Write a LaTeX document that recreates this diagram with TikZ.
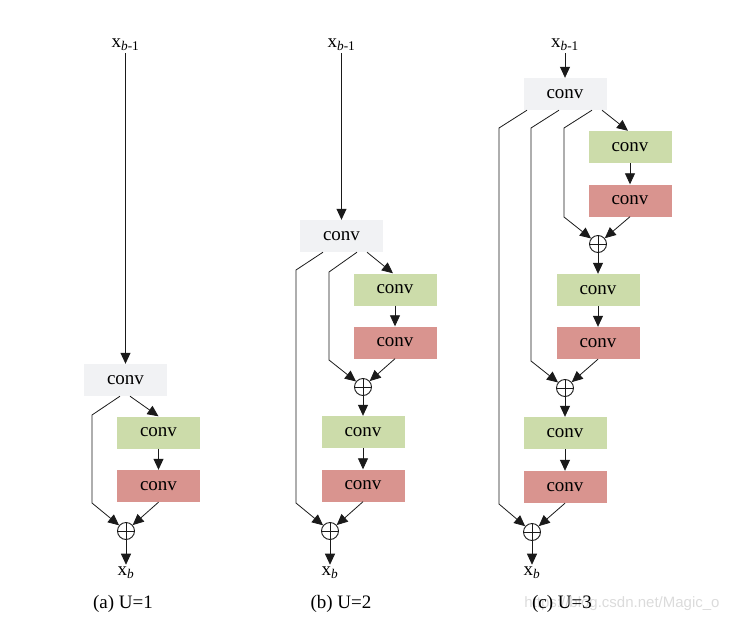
\documentclass[tikz,border=0pt]{standalone}
\usepackage{fontspec}
\setmainfont{Liberation Serif}
\newfontfamily\wmfont{Liberation Sans}
\usepackage{tikz}
\usetikzlibrary{arrows.meta,positioning}
\definecolor{convgray}{HTML}{F1F2F4}
\definecolor{convgreen}{HTML}{CCDCAA}
\definecolor{convred}{HTML}{D9948F}
\definecolor{linedark}{HTML}{1A1A1A}

\begin{document}
\begin{tikzpicture}[
			x=1pt,
			y=-1pt,
			font=\fontsize{19}{22}\selectfont,
			box/.style={minimum width=83pt,minimum height=32pt,inner sep=0pt},
			graybox/.style={box,fill=convgray},
			greenbox/.style={box,fill=convgreen},
			redbox/.style={box,fill=convred},
			plus/.style={circle,draw=linedark,line width=.9pt,minimum size=17pt,inner sep=0pt,
				path picture={\draw[line width=.9pt,linedark]
					(path picture bounding box.north) -- (path picture bounding box.south)
					(path picture bounding box.west) -- (path picture bounding box.east);}},
			arr/.style={draw=linedark,line width=.8pt,-{Triangle[length=11pt,width=10pt]}},
			lbl/.style={inner sep=2pt}
			]
			
			\useasboundingbox (0,0) rectangle (734,627);
			
			%------------------------------
			% (a) U=1
			%------------------------------
			\node[lbl] (xin_a) at (125.5,45) {x\textsubscript{\textit{b}-1}};
			\node[graybox] (conv_a) at (125.5,380) {conv};
			\node[greenbox] (g_a) at (158.5,432.5) {conv};
			\node[redbox] (r_a) at (158.5,486) {conv};
			\node[plus] (p_a) at (126,531) {};
			\node[lbl] (xout_a) at (126,573) {x\textsubscript{\textit{b}}};
			\node (cap_a) at (123,604) {(a) U=1};
			
			\draw[arr] (xin_a) -- (conv_a);
			\draw[arr] ([xshift=-5.5pt]conv_a.south) -- (92,415) -- (92,503) -- (p_a);
			\draw[arr] ([xshift=4.5pt]conv_a.south) -- (g_a.north);
			\draw[arr] (g_a) -- (r_a);
			\draw[arr] (r_a.south) -- (p_a);
			\draw[arr] (p_a) -- (xout_a);
			
			%------------------------------
			% (b) U=2
			%------------------------------
			\node[lbl] (xin_b) at (341.5,45) {x\textsubscript{\textit{b}-1}};
			\node[graybox] (conv_b) at (341.5,236) {conv};
			\node[greenbox] (g1_b) at (395,289.5) {conv};
			\node[redbox] (r1_b) at (395,342.5) {conv};
			\node[plus] (p1_b) at (363,387) {};
			\node[greenbox] (g2_b) at (363,432) {conv};
			\node[redbox] (r2_b) at (363,485.5) {conv};
			\node[plus] (p2_b) at (330,531) {};
			\node[lbl] (xout_b) at (330,573) {x\textsubscript{\textit{b}}};
			\node (cap_b) at (341,604) {(b) U=2};
			
			\draw[arr] (xin_b) -- (conv_b);
			\draw[arr] ([xshift=-18.5pt]conv_b.south) -- (296,270) -- (296,503) -- (p2_b);
			\draw[arr] ([xshift=15.5pt]conv_b.south) -- (329,272) -- (329,360) -- (p1_b);
			\draw[arr] ([xshift=25.5pt]conv_b.south) -- ([xshift=-2pt]g1_b.north);
			\draw[arr] (g1_b) -- (r1_b);
			\draw[arr] (r1_b.south) -- (p1_b);
			\draw[arr] (p1_b) -- (g2_b);
			\draw[arr] (g2_b) -- (r2_b);
			\draw[arr] (r2_b.south) -- (p2_b);
			\draw[arr] (p2_b) -- (xout_b);
			
			%------------------------------
			% (c) U=3
			%------------------------------
			\node[lbl] (xin_c) at (565,45) {x\textsubscript{\textit{b}-1}};
			\node[graybox] (conv_c) at (565,94) {conv};
			\node[greenbox] (g1_c) at (630,147) {conv};
			\node[redbox] (r1_c) at (630,200.5) {conv};
			\node[plus] (p1_c) at (598,244) {};
			\node[greenbox] (g2_c) at (598,290) {conv};
			\node[redbox] (r2_c) at (598,343) {conv};
			\node[plus] (p2_c) at (565,388) {};
			\node[greenbox] (g3_c) at (565,433) {conv};
			\node[redbox] (r3_c) at (565,487) {conv};
			\node[plus] (p3_c) at (532,532) {};
			\node[lbl] (xout_c) at (532,573) {x\textsubscript{\textit{b}}};
			
			\draw[arr] (xin_c) -- (conv_c);
			\draw[arr] ([xshift=-38pt]conv_c.south) -- (499,128) -- (499,504) -- (p3_c);
			\draw[arr] ([xshift=-6pt]conv_c.south) -- (531,128) -- (531,361) -- (p2_c);
			\draw[arr] ([xshift=27pt]conv_c.south) -- (564,128) -- (564,217) -- (p1_c);
			\draw[arr] ([xshift=37pt]conv_c.south) -- ([xshift=-2pt]g1_c.north);
			\draw[arr] (g1_c) -- (r1_c);
			\draw[arr] (r1_c.south) -- (p1_c);
			\draw[arr] (p1_c) -- (g2_c);
			\draw[arr] (g2_c) -- (r2_c);
			\draw[arr] (r2_c.south) -- (p2_c);
			\draw[arr] (p2_c) -- (g3_c);
			\draw[arr] (g3_c) -- (r3_c);
			\draw[arr] (r3_c.south) -- (p3_c);
			\draw[arr] (p3_c) -- (xout_c);
			
			% watermark, then caption over it
			\node[text=black!14,font=\wmfont\fontsize{15}{18}\selectfont] (wmark) at (622,604) {https://blog.csdn.net/Magic\_o};
			\node (cap_c) at (562,604) {(c) U=3};
		\end{tikzpicture}
\end{document}
